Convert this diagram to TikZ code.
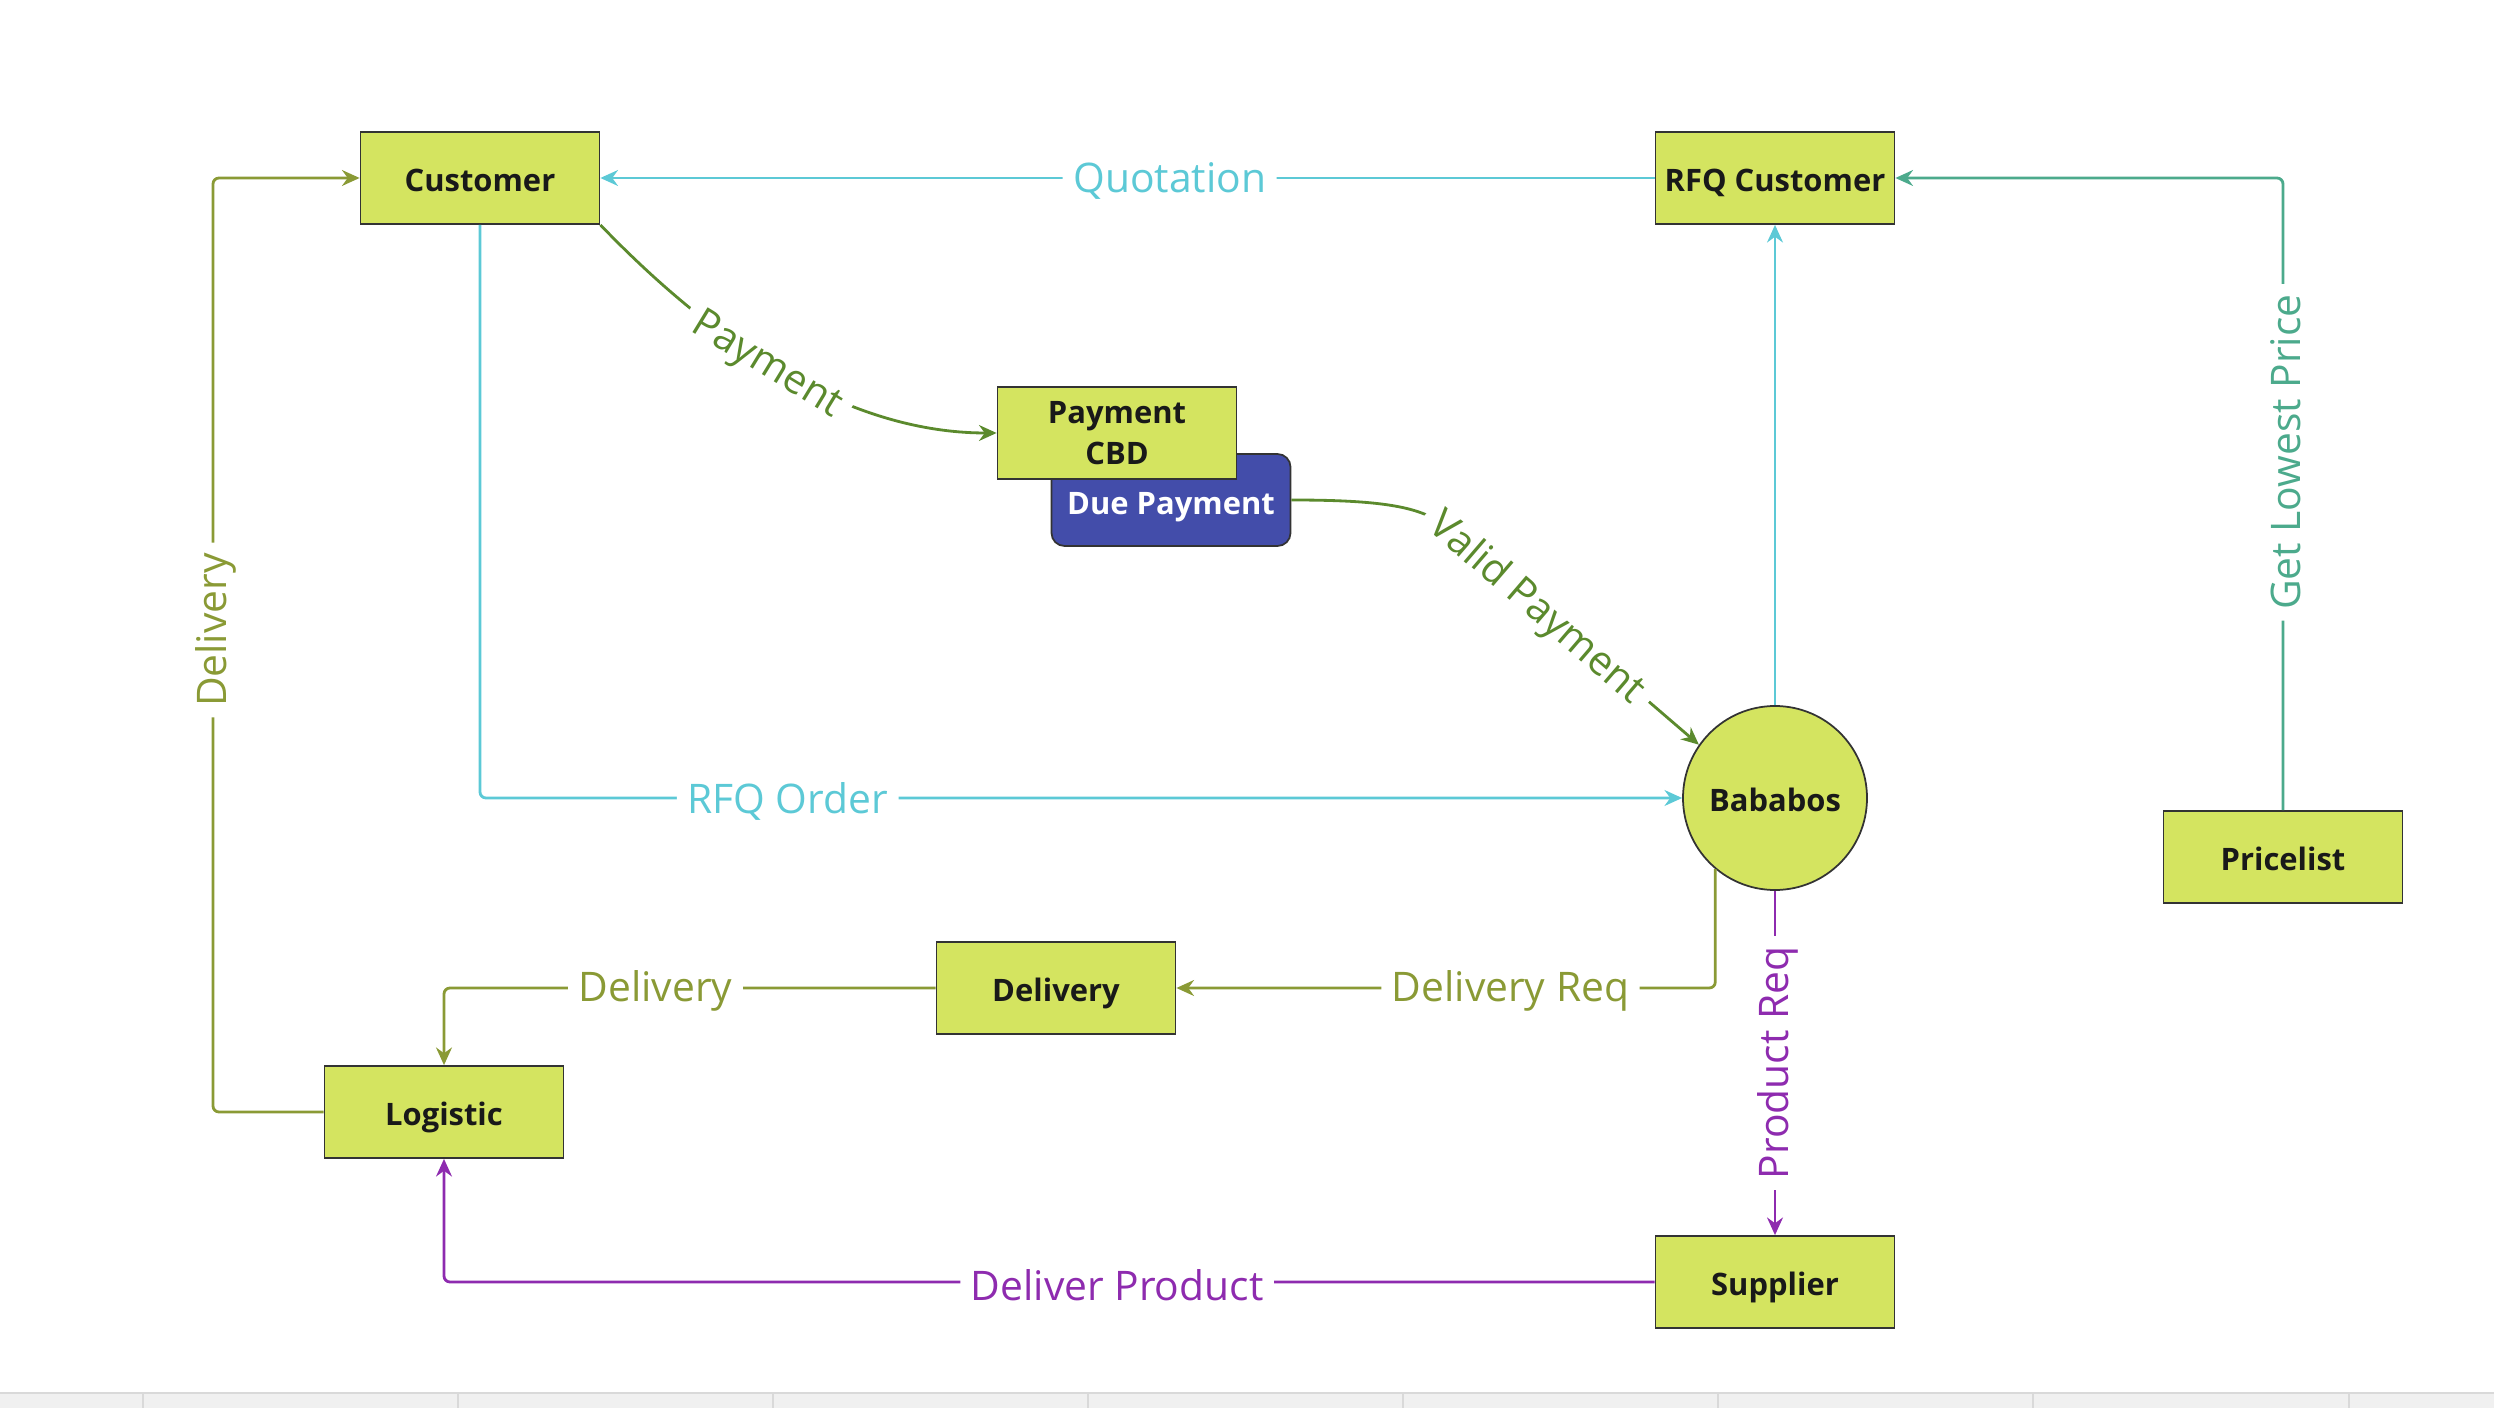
\documentclass[tikz,border=0pt]{standalone}
\usepackage{fontspec}
\setmainfont{Open Sans}
\usetikzlibrary{arrows.meta}
\definecolor{boxfill}{HTML}{D4E460}
\definecolor{boxline}{HTML}{333333}
\definecolor{duefill}{HTML}{434DAA}
\definecolor{cyanline}{HTML}{5CC9D6}
\definecolor{tealline}{HTML}{4CAA8C}
\definecolor{payline}{HTML}{5B8A2D}
\definecolor{oliveline}{HTML}{8A9A35}
\definecolor{purpline}{HTML}{8E2BAF}
\begin{document}
\begin{tikzpicture}[x=0.1mm,y=-0.1mm,
  box/.style={draw=boxline,fill=boxfill,line width=0.5pt,minimum width=23.9mm,minimum height=9.2mm,inner sep=0pt,
    text=black!90,font=\bfseries\fontsize{8.8}{11.7}\selectfont,align=center,text height=9.2pt,text depth=1.5pt},
  lab/.style={fill=white,inner sep=3pt,font=\fontsize{11.6}{14}\selectfont,yshift=-0.9pt},
  flow/.style={line width=0.8pt,rounded corners=0.6mm,-{Stealth[length=5pt,width=4.5pt]}}]
\useasboundingbox (0,0) rectangle (2494,1408);
% window strip at the bottom
\fill[black!6] (0,1393) rectangle (2494,1408);
\draw[black!15,line width=0.8pt] (0,1393)--(2494,1393);
\foreach \x in {143,458,773,1088,1403,1718,2033,2349}
  \draw[black!15] (\x,1393)--(\x,1408);
% boxes
\node[box] (cust) at (480,178) {Customer};
\node[box] (rfq) at (1775,178) {RFQ Customer};
\node[box,fill=duefill,rounded corners=1.3mm,text=white,text height=10pt,text depth=1.5pt] (due) at (1171,500) {Due Payment};
\node[box,text height=,text depth=] (paycbd) at (1117,433) {Payment\\CBD};
\node[box,circle,minimum size=18.4mm] (bab) at (1775,798) {Bababos};
\node[box] (price) at (2283,857) {Pricelist};
\node[box] (deliv) at (1056,988) {Delivery};
\node[box] (logi) at (444,1112) {Logistic};
\node[box] (supp) at (1775,1282) {Supplier};
\coordinate (dleft) at (213,178);
% flows
\draw[flow,cyanline] (rfq.west)--(cust.east) node[lab,text=cyanline,pos=0.46]{Quotation};
\draw[flow,payline] (cust.south east) .. controls (740,370) and (870,433) .. (paycbd.west)
  node[lab,text=payline,pos=0.41,sloped]{Payment};
\draw[flow,payline] (due.east) .. controls (1370,500) and (1410,505) .. (1440,522)--(bab.145)
  node[lab,text=payline,pos=0.38,sloped]{Valid Payment};
\draw[flow,cyanline] (cust.south) |- (bab.west) node[lab,text=cyanline,pos=0.628]{RFQ Order};
\draw[flow,cyanline] (bab.north)--(rfq.south);
\draw[flow,tealline] (price.north) |- (rfq.east) node[rotate=90,lab,text=tealline,pos=0.283]{Get Lowest Price};
\draw[flow,oliveline] (bab.230) |- (deliv.east) node[lab,text=oliveline,pos=0.69]{Delivery Req};
\draw[flow,oliveline] (deliv.west) -| (logi.north) node[lab,text=oliveline,pos=0.285]{Delivery};
\draw[flow,oliveline] (logi.west) -| node[rotate=90,lab,text=oliveline,pos=0.758]{Delivery} (dleft)--(cust.west);
\draw[flow,purpline] (bab.south)--(supp.north) node[rotate=90,lab,text=purpline,midway]{Product Req};
\draw[flow,purpline] (supp.west) -| (logi.south) node[lab,text=purpline,pos=0.222]{Deliver Product};
\end{tikzpicture}
\end{document}
